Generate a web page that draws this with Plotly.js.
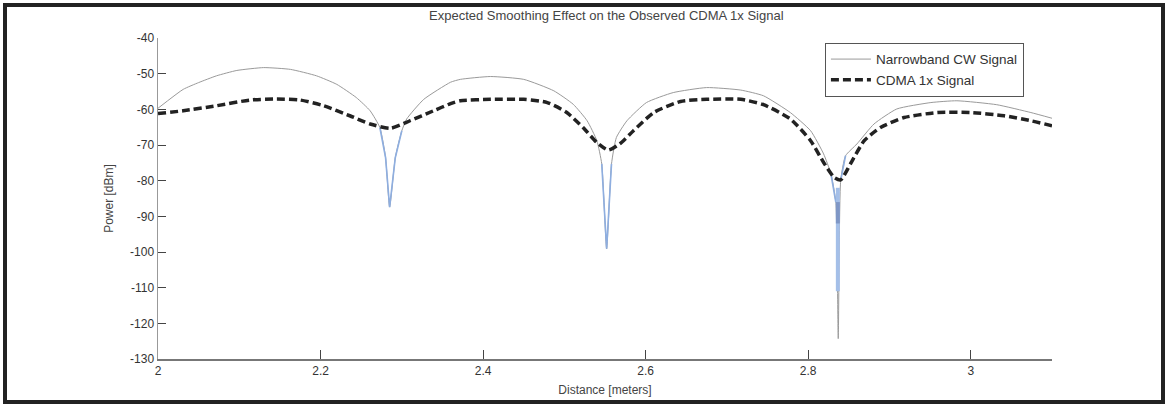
<!DOCTYPE html>
<html>
<head>
<meta charset="utf-8">
<script src="https://cdn.plot.ly/plotly-3.0.1.min.js"></script>
<style>
  html, body { margin: 0; padding: 0; background: #fff; }
  #wrap { position: relative; width: 1166px; height: 405px; }
  #chart { width: 1166px; height: 405px; }
  #frame { position: absolute; left: 3px; top: 3px; width: 1154px; height: 393px;
           border: 4px solid #222; pointer-events: none; }
</style>
</head>
<body>
<div id="wrap">
  <div id="chart"></div>
  <div id="frame"></div>
</div>
<script>
// ---- data ----
const cwX = [2.000, 2.031, 2.050, 2.072, 2.097, 2.130, 2.163, 2.195, 2.220, 2.244, 2.261, 2.273, 2.280, 2.285, 2.292, 2.300, 2.306, 2.327, 2.360, 2.372, 2.409, 2.450, 2.487, 2.511, 2.528, 2.540, 2.546, 2.552, 2.558, 2.564, 2.577, 2.601, 2.634, 2.675, 2.717, 2.745, 2.778, 2.803, 2.819, 2.828, 2.834, 2.837, 2.840, 2.846, 2.860, 2.881, 2.909, 2.951, 2.983, 3.032, 3.074, 3.100];
const cwY = [-59.7, -54.4, -52.5, -50.6, -49.1, -48.3, -48.8, -50.6, -53.0, -56.7, -60.4, -65.1, -73.5, -87.4, -73.5, -66.0, -62.7, -57.2, -52.4, -51.6, -50.8, -51.6, -54.8, -58.6, -63.2, -68.8, -75.3, -99.1, -75.3, -67.9, -63.2, -58.1, -55.3, -53.9, -54.6, -56.2, -60.9, -66.0, -72.5, -78.1, -86.0, -124.3, -80.0, -73.0, -69.7, -64.1, -59.9, -58.1, -57.6, -58.7, -60.9, -62.5];

const cdmaX = [2.000, 2.031, 2.072, 2.113, 2.146, 2.175, 2.204, 2.236, 2.261, 2.286, 2.310, 2.339, 2.360, 2.372, 2.409, 2.450, 2.479, 2.503, 2.523, 2.540, 2.554, 2.568, 2.585, 2.610, 2.643, 2.675, 2.717, 2.745, 2.778, 2.803, 2.819, 2.832, 2.840, 2.852, 2.869, 2.889, 2.918, 2.959, 3.000, 3.041, 3.074, 3.100];
const cdmaY = [-61.2, -60.4, -59.0, -57.4, -57.1, -57.4, -59.0, -61.8, -64.1, -65.3, -63.2, -60.4, -58.4, -57.6, -57.2, -57.2, -58.1, -60.9, -65.1, -69.3, -71.4, -69.7, -66.0, -60.9, -57.8, -57.2, -57.2, -58.7, -62.7, -68.8, -74.9, -79.1, -79.8, -75.3, -68.8, -65.1, -62.3, -60.9, -60.9, -61.8, -63.2, -64.6];

// x-windows of the nulls where the CW trace appears blue in the reference
const nullWindows = [[2.272, 2.301], [2.545, 2.559], [2.827, 2.835], [2.839, 2.847]];
// thick blue bar at the deepest null
const nullBarX = [2.8365, 2.8365];
const nullBarY = [-82, -111];
const nullBarDarkY = [-86, -92];

const yTicks = [-40, -50, -60, -70, -80, -90, -100, -110, -120, -130];
const yTickText = ['-40', '-50', '-60', '-70', '-80', '-90', '-100', '-110', '-120', '-130'];
const xTicks = [2, 2.2, 2.4, 2.6, 2.8, 3];
const xTickText = ['2', '2.2', '2.4', '2.6', '2.8', '3'];

// ---- build blue overlay from CW data ----
const blueX = [], blueY = [];
nullWindows.forEach(w => {
  cwX.forEach((x, i) => { if (x >= w[0] && x <= w[1]) { blueX.push(x); blueY.push(cwY[i]); } });
  blueX.push(null); blueY.push(null);
});

const FONT = 'Liberation Sans, Arial, sans-serif';

const traces = [
  { x: cwX, y: cwY, type: 'scatter', mode: 'lines', name: 'Narrowband CW Signal',
    line: { color: '#9a9a9a', width: 1, shape: 'spline', smoothing: 0.5 } },
  { x: blueX, y: blueY, type: 'scatter', mode: 'lines', showlegend: false,
    line: { color: '#8eaee0', width: 1.6 }, connectgaps: false },
  { x: nullBarX, y: nullBarY, type: 'scatter', mode: 'lines', showlegend: false,
    line: { color: '#a4bfe8', width: 4 } },
  { x: nullBarX, y: nullBarDarkY, type: 'scatter', mode: 'lines', showlegend: false,
    line: { color: '#7f97c6', width: 4 } },
  { x: cdmaX, y: cdmaY, type: 'scatter', mode: 'lines', name: 'CDMA 1x Signal',
    line: { color: '#222', width: 3.5, dash: '8px,4px', shape: 'spline', smoothing: 0.6 } }
];

const layout = {
  width: 1166, height: 405,
  margin: { l: 158, r: 114, t: 38, b: 46, pad: 0 },
  paper_bgcolor: '#fff', plot_bgcolor: '#fff',
  font: { family: FONT, size: 12, color: '#333' },
  title: { text: 'Expected Smoothing Effect on the Observed CDMA 1x Signal',
           font: { family: FONT, size: 13, color: '#444' },
           x: 0.52, xanchor: 'center', yref: 'container', y: 0.972, yanchor: 'top' },
  showlegend: true,
  legend: { x: 0.746, y: 0.985, xanchor: 'left', yanchor: 'top',
            bgcolor: '#fff', bordercolor: '#555', borderwidth: 1,
            font: { family: FONT, size: 13.5, color: '#333' },
            itemwidth: 40, tracegroupgap: 0 },
  xaxis: {
    range: [2, 3.1], tickmode: 'array', tickvals: xTicks, ticktext: xTickText,
    ticks: 'inside', ticklen: 9, tickcolor: '#444', tickwidth: 1,
    showline: true, linecolor: '#777', linewidth: 1.5,
    showgrid: false, zeroline: false,
    tickfont: { family: FONT, size: 12, color: '#333' },
    title: { text: 'Distance [meters]', font: { family: FONT, size: 12, color: '#444' }, standoff: 8 }
  },
  yaxis: {
    range: [-130, -40], tickmode: 'array', tickvals: yTicks, ticktext: yTickText,
    ticks: 'inside', ticklen: 8, tickcolor: '#444', tickwidth: 1,
    showline: true, linecolor: '#999', linewidth: 1.5,
    showgrid: false, zeroline: false,
    tickfont: { family: FONT, size: 12, color: '#333' },
    title: { text: 'Power [dBm]', font: { family: FONT, size: 12, color: '#444' }, standoff: 14 }
  }
};

Plotly.newPlot('chart', traces, layout, { staticPlot: true, displayModeBar: false });
</script>
</body>
</html>
